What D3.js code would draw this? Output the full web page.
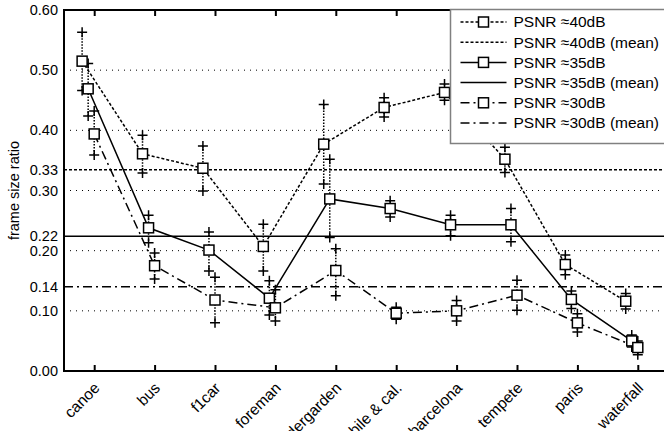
<!DOCTYPE html>
<meta charset="utf-8">
<head>
	<script src="https://d3js.org/d3.v7.min.js"></script>
	<style>
		body { margin: 0; background: #fff; }
		svg { display: block; font-family: "Liberation Sans", Arial, sans-serif; }
	</style>
</head>
<body>
	<div id="chart"></div>
</body>
<script type="text/javascript">
	var categories = ["canoe", "bus", "f1car", "foreman", "kindergarden", "mobile & cal.", "barcelona", "tempete", "paris", "waterfall"];

	// PSNR ~ 40dB
	var psnr40    = [0.515, 0.361, 0.337, 0.207, 0.377, 0.438, 0.463, 0.352, 0.177, 0.116];
	var psnr40Max = [0.563, 0.392, 0.374, 0.244, 0.443, 0.454, 0.477, 0.372, 0.193, 0.129];
	var psnr40Min = [0.466, 0.329, 0.299, 0.166, 0.311, 0.422, 0.450, 0.330, 0.160, 0.103];
	// PSNR ~ 35dB
	var psnr35    = [0.469, 0.238, 0.201, 0.121, 0.286, 0.270, 0.243, 0.243, 0.119, 0.050];
	var psnr35Max = [0.511, 0.259, 0.231, 0.150, 0.352, 0.283, 0.259, 0.270, 0.133, 0.060];
	var psnr35Min = [0.424, 0.213, 0.166, 0.093, 0.222, 0.256, 0.225, 0.215, 0.104, 0.040];
	// PSNR ~ 30dB
	var psnr30    = [0.394, 0.175, 0.118, 0.105, 0.167, 0.096, 0.100, 0.126, 0.080, 0.039];
	var psnr30Max = [0.432, 0.196, 0.156, 0.135, 0.203, 0.106, 0.117, 0.151, 0.095, 0.050];
	var psnr30Min = [0.359, 0.153, 0.080, 0.083, 0.125, 0.086, 0.083, 0.101, 0.065, 0.027];

	var gridTicks = [0, 0.1, 0.2, 0.3, 0.4, 0.5, 0.6];
	var seriesNames = ["PSNR \u224840dB", "PSNR \u224835dB", "PSNR \u224830dB"];

	var series = [
		{name: seriesNames[0], values: psnr40, max: psnr40Max, min: psnr40Min, dash: "3,2", meanDash: "3,2", shift: -0.2},
		{name: seriesNames[1], values: psnr35, max: psnr35Max, min: psnr35Min, dash: null, meanDash: null, shift: -0.1},
		{name: seriesNames[2], values: psnr30, max: psnr30Max, min: psnr30Min, dash: "9,4,2,4", meanDash: "9,4,2,4", shift: 0}
	];
	series.forEach(function(s) { s.mean = d3.mean(s.values); });

	var margin = {top: 10, left: 64},
		width = 604,
		height = 361;

	var svg = d3.select("#chart").append("svg")
		.attr("width", 664)
		.attr("height", 431);

	var g = svg.append("g")
		.attr("transform", "translate(" + margin.left + "," + margin.top + ")");

	var xScale = d3.scalePoint()
		.domain(categories)
		.range([0, width])
		.padding(0.5);

	var yScale = d3.scaleLinear()
		.domain([0, 0.6])
		.range([height, 0]);

	function xPos(s, i) {
		return xScale(categories[i]) + s.shift * xScale.step();
	}

	// dotted grid
	g.append("g").selectAll("line")
		.data(gridTicks.filter(function(d) { return d > 0 && d < 0.6; }))
		.enter().append("line")
		.attr("x1", 0).attr("x2", width)
		.attr("y1", function(d) { return yScale(d); })
		.attr("y2", function(d) { return yScale(d); })
		.style("stroke", "#000")
		.style("stroke-width", 1)
		.style("stroke-dasharray", "1,5");

	// mean lines
	g.append("g").selectAll("line")
		.data(series)
		.enter().append("line")
		.attr("x1", 0).attr("x2", width)
		.attr("y1", function(d) { return yScale(d.mean); })
		.attr("y2", function(d) { return yScale(d.mean); })
		.style("stroke", "#000")
		.style("stroke-width", 1.5)
		.style("stroke-dasharray", function(d) { return d.meanDash; });

	// axes
	var yAxis = d3.axisLeft(yScale)
		.tickValues(gridTicks.concat(series.map(function(s) { return s.mean; })))
		.tickFormat(d3.format(".2f"))
		.tickSize(0)
		.tickPadding(6);

	var yaxis_g = g.append("g").call(yAxis);
	yaxis_g.select(".domain").remove();
	yaxis_g.selectAll("text")
		.style("font-size", "14.5px")
		.style("font-family", "Liberation Sans, Arial, sans-serif")
		.style("fill", "#000");

	var xAxis = d3.axisBottom(xScale)
		.tickSizeInner(-6)
		.tickSizeOuter(0)
		.tickPadding(0);

	var xaxis_g = g.append("g")
		.attr("transform", "translate(0," + height + ")")
		.call(xAxis);
	xaxis_g.select(".domain").remove();
	xaxis_g.selectAll(".tick line").style("stroke", "#000").style("stroke-width", 2);
	xaxis_g.selectAll("text")
		.style("font-size", "15.5px")
		.style("font-family", "Liberation Sans, Arial, sans-serif")
		.style("fill", "#000")
		.style("text-anchor", "end")
		.attr("y", 0)
		.attr("dy", 0)
		.attr("transform", "translate(6,18)rotate(-45)");

	var top_g = g.append("g")
		.call(d3.axisTop(xScale).tickSizeInner(-6).tickSizeOuter(0).tickFormat(""));
	top_g.select(".domain").remove();
	top_g.selectAll(".tick line").style("stroke", "#000").style("stroke-width", 2);

	// plot frame
	g.append("path")
		.attr("d", "M" + (width + 2) + ",0H0V" + height + "H" + (width + 2))
		.style("fill", "none")
		.style("stroke", "#000")
		.style("stroke-width", 2);

	g.append("text")
		.attr("transform", "translate(-45," + (height / 2) + ")rotate(-90)")
		.style("text-anchor", "middle")
		.style("font-size", "14.5px")
		.text("frame size ratio");

	// error bars
	series.forEach(function(s) {
		var eb = g.append("g").selectAll("g")
			.data(s.values)
			.enter().append("g")
			.attr("transform", function(d, i) { return "translate(" + xPos(s, i) + ",0)"; });

		eb.append("line")
			.attr("y1", function(d, i) { return yScale(s.max[i]); })
			.attr("y2", function(d, i) { return yScale(s.min[i]); })
			.style("stroke", "#000")
			.style("stroke-width", 1.5)
			.style("stroke-dasharray", "1.5,1.5");

		eb.selectAll("path.plus")
			.data(function(d, i) { return [s.max[i], s.min[i]]; })
			.enter().append("path")
			.attr("class", "plus")
			.attr("d", function(v) {
				var y = yScale(v);
				return "M-5," + y + "H5M0," + (y - 5) + "V" + (y + 5);
			})
			.style("stroke", "#000")
			.style("stroke-width", 1.5);
	});

	// series lines and markers
	var line = d3.line();
	series.forEach(function(s) {
		g.append("path")
			.datum(s.values.map(function(v, i) { return [xPos(s, i), yScale(v)]; }))
			.attr("d", line)
			.style("fill", "none")
			.style("stroke", "#000")
			.style("stroke-width", 1.5)
			.style("stroke-dasharray", s.dash);
	});
	series.forEach(function(s) {
		g.append("g").selectAll("rect")
			.data(s.values)
			.enter().append("rect")
			.attr("x", function(d, i) { return xPos(s, i) - 5; })
			.attr("y", function(d) { return yScale(d) - 5; })
			.attr("width", 10)
			.attr("height", 10)
			.style("fill", "#fff")
			.style("stroke", "#000")
			.style("stroke-width", 1.5);
	});

	// legend
	var legendItems = [];
	series.forEach(function(s) {
		legendItems.push({label: s.name, dash: s.dash, marker: true});
		legendItems.push({label: s.name + " (mean)", dash: s.meanDash, marker: false});
	});

	var legend = svg.append("g")
		.attr("transform", "translate(450.5,9.5)");

	legend.append("rect")
		.attr("width", 240)
		.attr("height", 134)
		.style("fill", "#fff")
		.style("stroke", "#808080")
		.style("stroke-width", 1.5);

	var item = legend.selectAll("g.item")
		.data(legendItems)
		.enter().append("g")
		.attr("class", "item")
		.attr("transform", function(d, i) { return "translate(0," + (12.5 + i * 20.2) + ")"; });

	item.append("line")
		.attr("x1", 10).attr("x2", 56)
		.style("stroke", "#000")
		.style("stroke-width", 1.5)
		.style("stroke-dasharray", function(d) { return d.dash; });

	item.filter(function(d) { return d.marker; })
		.append("rect")
		.attr("x", 28).attr("y", -5)
		.attr("width", 10).attr("height", 10)
		.style("fill", "#fff")
		.style("stroke", "#000")
		.style("stroke-width", 1.5);

	item.append("text")
		.attr("x", 63)
		.attr("dy", "0.35em")
		.style("font-size", "15.5px")
		.text(function(d) { return d.label; });
</script>
